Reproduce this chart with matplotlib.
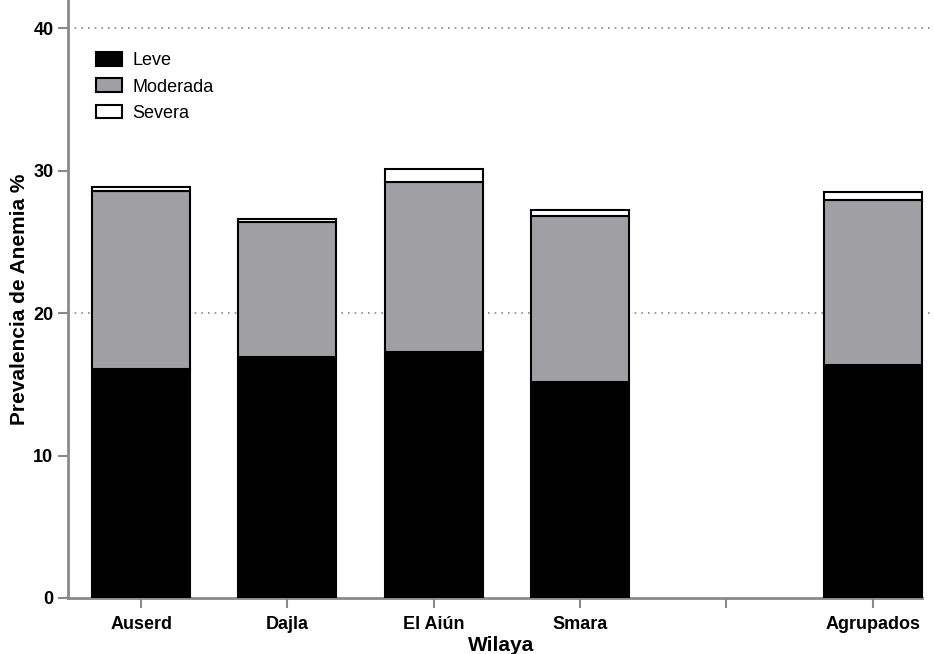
import matplotlib.pyplot as plt
import numpy as np

plt.rcParams['font.family'] = ['Liberation Sans', 'DejaVu Sans']

# data
wilayas = ['Auserd', 'Dajla', 'El Aiún', 'Smara', '', 'Agrupados']
positions = [0, 1, 2, 3, 5]
leve = [16.1, 16.9, 17.3, 15.15, 16.35]
moderada = [12.5, 9.5, 11.95, 11.7, 11.6]
severa = [0.25, 0.2, 0.9, 0.4, 0.55]

fig = plt.figure(figsize=(9.34, 6.54), dpi=100)
ax = fig.add_axes([68/934, 56/654, (934-68)/934, 598/654])

w = 0.67
leve = np.array(leve)
moderada = np.array(moderada)
severa = np.array(severa)
ax.bar(positions, leve, w, color='black', edgecolor='black', linewidth=1.5, label='Leve', zorder=3)
ax.bar(positions, moderada, w, bottom=leve, color='#a09fa4', edgecolor='black', linewidth=1.5, label='Moderada', zorder=3)
ax.bar(positions, severa, w, bottom=leve + moderada, color='white', edgecolor='black', linewidth=1.5, label='Severa', zorder=3)

ax.set_xlim(-0.5, 5.42)
ax.set_ylim(0, 42)
ax.set_xticks(range(6))
ax.set_xticklabels(wilayas, fontsize=13, fontweight='bold')
ax.set_yticks([0, 10, 20, 30, 40])
ax.set_yticklabels(['0', '10', '20', '30', '40'], fontsize=13, fontweight='bold')

for y in [20, 40]:
    ax.axhline(y, color='#888888', linestyle=(0, (1, 3)), linewidth=1.2, zorder=1)

for s in ['top', 'right']:
    ax.spines[s].set_visible(False)
for s in ['left', 'bottom']:
    ax.spines[s].set_color('#8a8a8a')
    ax.spines[s].set_linewidth(2)
ax.spines['bottom'].set_bounds(-0.5, 5.34)
ax.tick_params(axis='both', colors='#8a8a8a', width=1.5, length=7, labelcolor='black')
ax.tick_params(axis='x', pad=6)

ax.set_xlabel('Wilaya', fontsize=15, fontweight='bold', labelpad=2)
ax.set_ylabel('Prevalencia de Anemia %', fontsize=15, fontweight='bold', labelpad=3)

leg = ax.legend(loc='upper left', bbox_to_anchor=(0.013, 0.94), frameon=False, fontsize=13,
                handlelength=1.45, handleheight=0.8, labelspacing=0.5, handletextpad=0.6)

fig.savefig('out.png', dpi=100)
